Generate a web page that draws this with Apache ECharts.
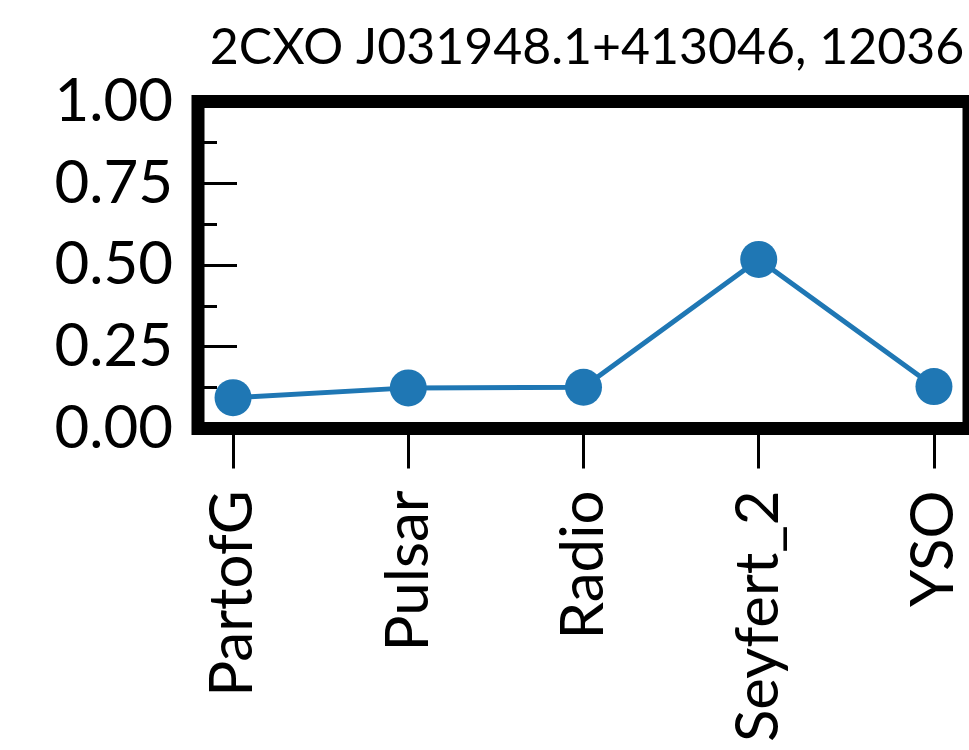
<!DOCTYPE html>
<html>
<head>
<meta charset="utf-8">
<script src="https://cdn.jsdelivr.net/npm/echarts@6/dist/echarts.min.js"></script>
<style>html,body{margin:0;padding:0;background:#fff}#c{width:969px;height:750px}</style>
</head>
<body>
<div id="c"></div>
<script>
var titleText = "2CXO J031948.1+413046, 12036";
var categories = ["PartofG", "Pulsar", "Radio", "Seyfert_2", "YSO"];
var values = [0.094, 0.124, 0.126, 0.517, 0.128];
var yTicks = [0, 0.25, 0.5, 0.75, 1.0];

var chart = echarts.init(document.getElementById('c'));
var fontFam = 'Lato, "Open Sans", sans-serif';
chart.setOption({
  animation: false,
  title: {
    text: titleText,
    left: 582, top: 18, textAlign: 'center',
    textStyle: {fontFamily: fontFam, fontWeight: 'normal', fontSize: 50, color: '#000'}
  },
  grid: {
    left: 198, top: 101.6, width: 776, height: 326.8,
    show: true, borderColor: '#000', borderWidth: 13, backgroundColor: 'transparent'
  },
  xAxis: {
    type: 'value', min: -0.2, max: 4.2,
    splitLine: {show: false},
    axisLine: {show: false, onZero: false},
    axisTick: {show: true, inside: false, length: 40, lineStyle: {color: '#000', width: 3}, customValues: categories.map(function(c, i){return i;})},
    axisLabel: {
      show: true, rotate: 90, margin: 62, fontSize: 60, fontFamily: fontFam, color: '#000',
      customValues: categories.map(function(c, i){return i;}),
      formatter: function(v){ return categories[Math.round(v)] || ''; }
    }
  },
  yAxis: {
    type: 'value', min: 0, max: 1, interval: 0.25,
    splitLine: {show: false},
    axisLine: {show: false, onZero: false},
    axisTick: {show: true, inside: true, length: 39, lineStyle: {color: '#000', width: 3}},
    minorTick: {show: true, splitNumber: 2, length: 19, lineStyle: {color: '#000', width: 3}},
    axisLabel: {
      show: true, margin: 25, fontSize: 60, fontFamily: fontFam, color: '#000',
      formatter: function(v){ return v.toFixed(2); }
    }
  },
  series: [{
    type: 'line',
    data: values.map(function(v, i){ return [i, v]; }),
    symbol: 'circle', symbolSize: 37,
    itemStyle: {color: '#1f77b4'},
    lineStyle: {color: '#1f77b4', width: 5},
    z: 3
  }]
});
</script>
</body>
</html>
